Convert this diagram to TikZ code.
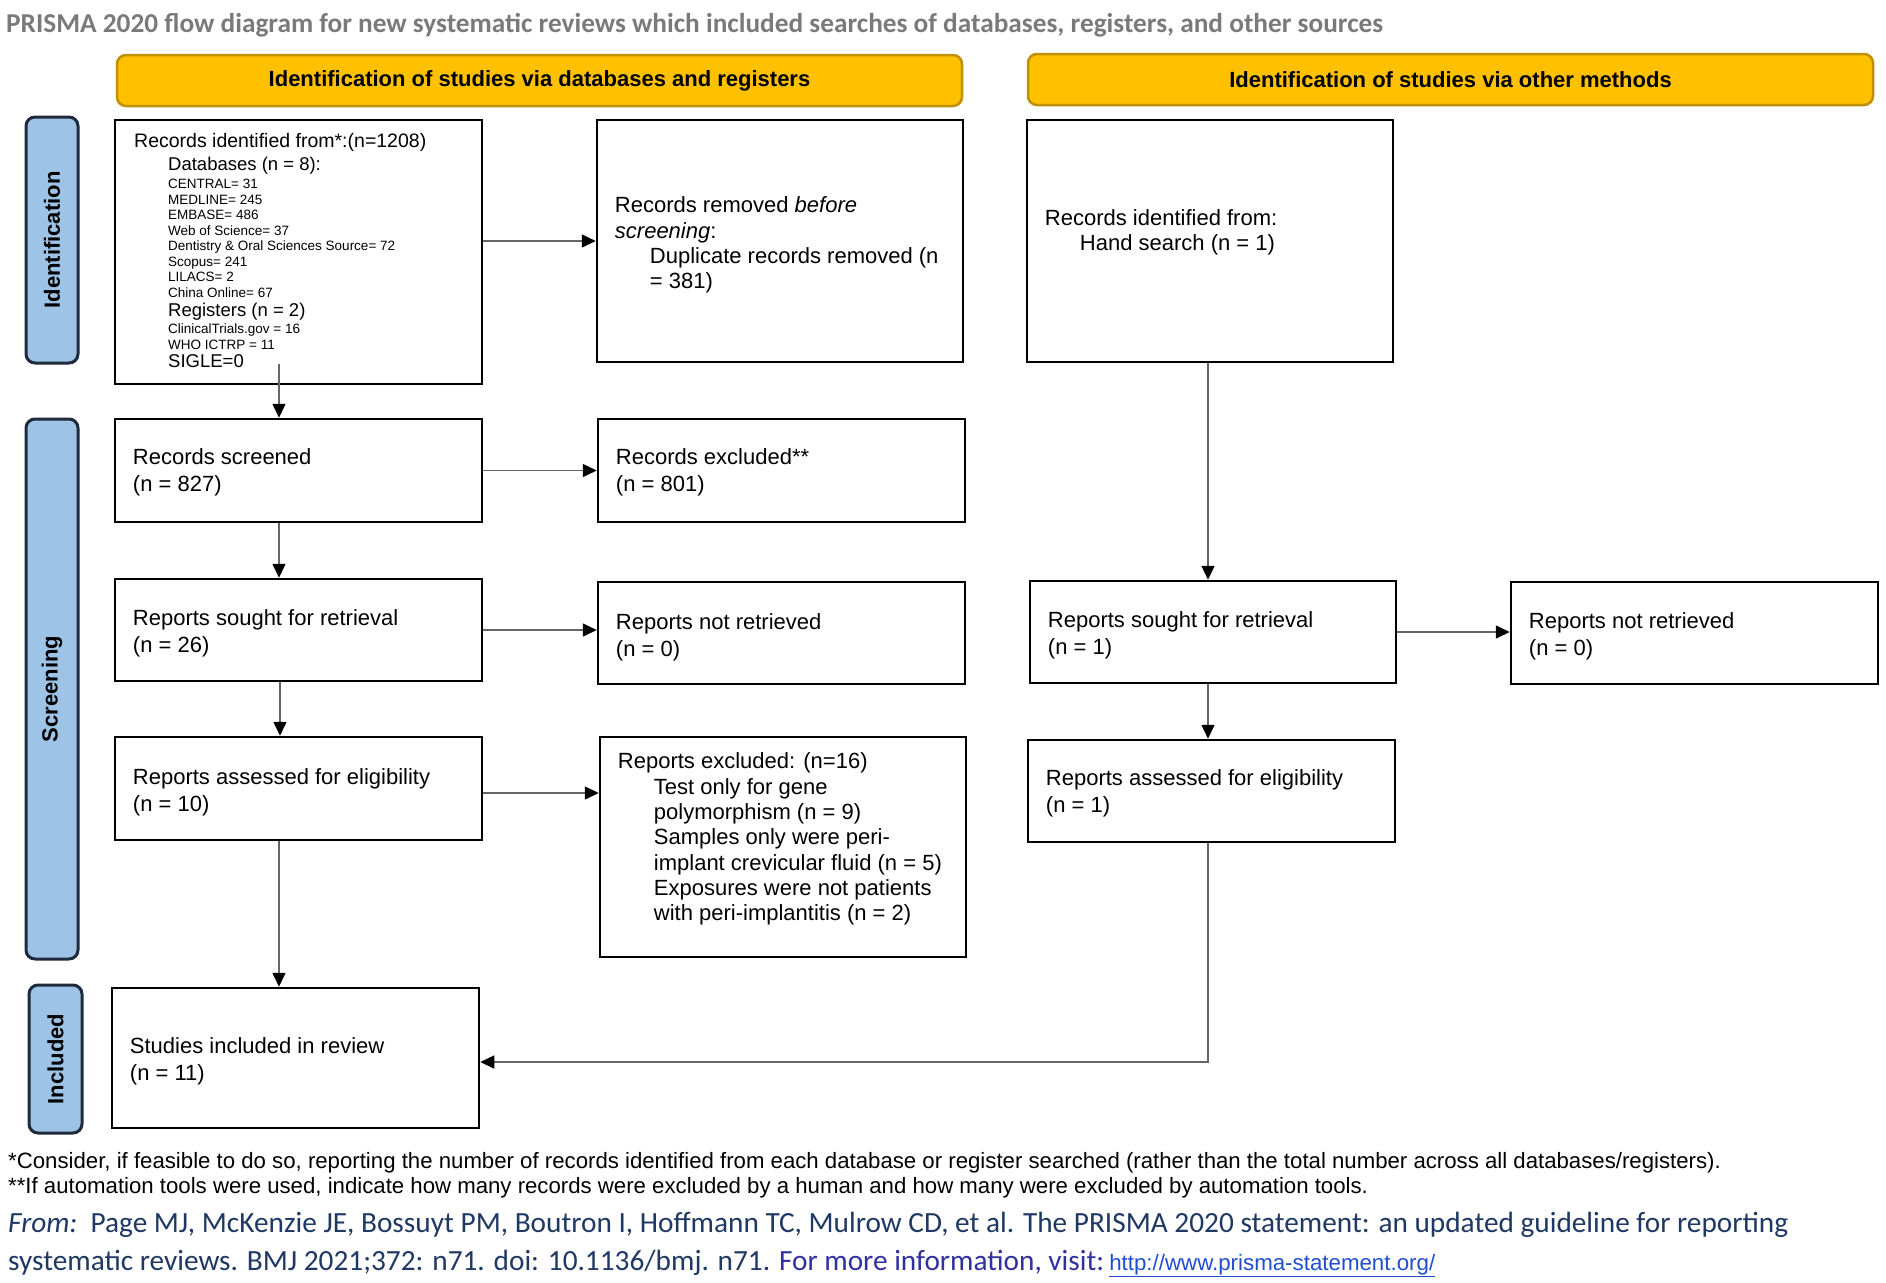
\documentclass[tikz,border=0pt]{standalone}
\usepackage{fontspec}
\setmainfont{Liberation Sans}
\newfontfamily\calfont{Carlito}
\usetikzlibrary{arrows.meta,calc}
\definecolor{hdr}{HTML}{FFC000}
\definecolor{hdrb}{HTML}{BF9000}
\definecolor{side}{HTML}{9DC3E6}
\definecolor{sideb}{HTML}{1F2A3C}
\definecolor{ttl}{HTML}{7A7A7A}
\definecolor{navy}{HTML}{1F3864}
\definecolor{vio}{HTML}{3030A0}
\definecolor{lnk}{HTML}{1F4FD0}
\definecolor{conn}{HTML}{666666}
\newcommand\fsz[2]{\fontsize{#1}{#2}\selectfont}
\begin{document}
\begin{tikzpicture}[x=1pt,y=-1pt,
  box/.style={draw=black,line width=2.5pt,inner sep=0pt},
  txt/.style={anchor=west,align=left,inner sep=0pt,font=\fsz{22}{27.3}},
  mtxt/.style={anchor=west,align=left,inner sep=0pt,font=\fsz{22}{25.3}},
  hdrbox/.style={draw=hdrb,fill=hdr,line width=2.5pt,rounded corners=9pt,minimum width=845pt,minimum height=51pt,font=\bfseries\fsz{22}{26}},
  sidebox/.style={draw=sideb,fill=side,line width=3pt,rounded corners=9pt,rotate=90,minimum height=52pt,font=\bfseries\fsz{22}{26}},
  arr/.style={draw=conn,line width=1.5pt,-{Triangle[length=14pt,width=13pt,color=black]}},
  l1/.style={anchor=mid west,inner sep=0pt,font=\fsz{19.5}{23}},
  l2/.style={anchor=mid west,inner sep=0pt,font=\fsz{18.5}{22}},
  l3/.style={anchor=mid west,inner sep=0pt,font=\fsz{13.5}{16}},
  foot/.style={anchor=mid west,inner sep=0pt,font=\fsz{22.2}{25}},
  cal/.style={anchor=mid west,inner sep=0pt,font=\calfont\fsz{29.3}{34},text=navy}]
\useasboundingbox (0,0) rectangle (1886,1282);
\fill[white] (0,0) rectangle (1886,1282);

% title
\node[anchor=mid west,inner sep=0pt,font=\calfont\bfseries\fsz{27.3}{32},text=ttl] (title) at (6,30)
  {PRISMA 2020 flow diagram for new systematic reviews which included searches of databases, registers, and other sources};

% headers
\node[hdrbox] (h1) at (539.5,80.5) {Identification of studies via databases and registers};
\node[hdrbox] (h2) at (1450.5,79.5) {Identification of studies via other methods};

% side labels
\node[sidebox,minimum width=246pt] (sid) at (52,240) {Identification};
\node[sidebox,minimum width=540pt] (sscr) at (52,689) {Screening};
\node[sidebox,minimum width=148pt,minimum height=53pt] (sinc) at (55.5,1059) {Included};

% first box
\node[box,minimum width=367pt,minimum height=264pt] (idb) at (298.5,252) {};
\node[l1] (t1) at (134,145) {Records identified from*:(n=1208)};
\node[l2] (t2) at (168,168) {Databases (n = 8):};
\node[l3] (t3) at (168,186) {CENTRAL= 31};
\node[l3] (t4) at (168,202) {MEDLINE= 245};
\node[l3] (t5) at (168,217) {EMBASE= 486};
\node[l3] (t6) at (168,233) {Web of Science= 37};
\node[l3] (t7) at (168,248) {Dentistry \& Oral Sciences Source= 72};
\node[l3] (t8) at (168,264) {Scopus= 241};
\node[l3] (t9) at (168,279) {LILACS= 2};
\node[l3] (t10) at (168,295) {China Online= 67};
\node[l2] (t11) at (168,314) {Registers (n = 2)};
\node[l3] (t12) at (168,331) {ClinicalTrials.gov = 16};
\node[l3] (t13) at (168,347) {WHO ICTRP = 11};
\node[l2] (t14) at (168,365) {SIGLE=0};

% other boxes
\node[box,minimum width=366pt,minimum height=242pt] (rem) at (780,241) {};
\node[mtxt] (remt) at ([xshift=19pt,yshift=-4pt]rem.west)
  {Records removed \textit{before}\\\textit{screening}:\\\hspace*{35pt}Duplicate records removed (n\\\hspace*{35pt}= 381)};

\node[box,minimum width=366pt,minimum height=242pt] (oid) at (1210,241) {};
\node[mtxt] (oidt) at ([xshift=19pt,yshift=9pt]oid.west)
  {Records identified from:\\\hspace*{35pt}Hand search (n = 1)};

\node[box,minimum width=367pt,minimum height=103pt] (scr) at (298.5,470.5) {};
\node[txt] (scrt) at ([xshift=19pt,yshift=-1.5pt]scr.west) {Records screened\\(n = 827)};
\node[box,minimum width=367pt,minimum height=103pt] (exc) at (781.5,470.5) {};
\node[txt] (exct) at ([xshift=19pt,yshift=-1.5pt]exc.west) {Records excluded**\\(n = 801)};

\node[box,minimum width=367pt,minimum height=102pt] (sgt) at (298.5,630) {};
\node[txt] (sgtt) at ([xshift=19pt,yshift=-3pt]sgt.west) {Reports sought for retrieval\\(n = 26)};
\node[box,minimum width=367pt,minimum height=102pt] (nrt) at (781.5,633) {};
\node[txt] (nrtt) at ([xshift=19pt,yshift=-4pt]nrt.west) {Reports not retrieved\\(n = 0)};
\node[box,minimum width=366pt,minimum height=102pt] (osgt) at (1213,632) {};
\node[txt] (osgtt) at ([xshift=19pt,yshift=-3.5pt]osgt.west) {Reports sought for retrieval\\(n = 1)};
\node[box,minimum width=367pt,minimum height=102pt] (onrt) at (1694.5,633) {};
\node[txt] (onrtt) at ([xshift=19pt,yshift=-3.5pt]onrt.west) {Reports not retrieved\\(n = 0)};

\node[box,minimum width=367pt,minimum height=103pt] (ass) at (298.5,788.5) {};
\node[txt] (asst) at ([xshift=19pt,yshift=-4pt]ass.west) {Reports assessed for eligibility\\(n = 10)};
\node[box,minimum width=366pt,minimum height=220pt] (rex) at (783,847) {};
\node[mtxt] (rext) at ([xshift=19pt,yshift=8pt]rex.west)
  {Reports excluded: (n=16)\\
   \hspace*{36pt}Test only for gene\\
   \hspace*{36pt}polymorphism (n = 9)\\
   \hspace*{36pt}Samples only were peri-\\
   \hspace*{36pt}implant crevicular fluid (n = 5)\\
   \hspace*{36pt}Exposures were not patients\\
   \hspace*{36pt}with peri-implantitis (n = 2)};
\node[box,minimum width=367pt,minimum height=102pt] (oass) at (1211.5,791) {};
\node[txt] (oasst) at ([xshift=19pt,yshift=-2pt]oass.west) {Reports assessed for eligibility\\(n = 1)};

\node[box,minimum width=367pt,minimum height=140pt] (inc) at (295.5,1058) {};
\node[txt] (inct) at ([xshift=19pt,yshift=-3.5pt]inc.west) {Studies included in review\\(n = 11)};

% connectors
\draw[arr] ([xshift=-19.5pt,yshift=21pt]idb.south) -- ([xshift=-19.5pt]idb.south |- scr.north);
\draw[arr] ([xshift=-19.5pt]scr.south) -- ([xshift=-19.5pt]scr.south |- sgt.north);
\draw[arr] ([xshift=-18.5pt]sgt.south) -- ([xshift=-18.5pt]sgt.south |- ass.north);
\draw[arr] ([xshift=-19.5pt]ass.south) -- ([xshift=-19.5pt]ass.south |- inc.north);
\draw[arr] (idb.east |- rem.west) -- (rem.west);
\draw[arr] (scr.east) -- (scr.east -| exc.west);
\draw[arr] (sgt.east) -- (sgt.east -| nrt.west);
\draw[arr] ([yshift=-4.5pt]ass.east) -- ([yshift=-4.5pt]ass.east -| rex.west);
\draw[arr] (osgt.east) -- (osgt.east -| onrt.west);
\draw[arr] ([xshift=-2pt]oid.south) -- ([xshift=-2pt]oid.south |- osgt.north);
\draw[arr] ([xshift=-5pt]osgt.south) -- ([xshift=-5pt]osgt.south |- oass.north);
\draw[arr] ([xshift=-3.5pt]oass.south) |- ([yshift=-4pt]inc.east);

% footer
\node[foot] (f1) at (8,1166) {*Consider, if feasible to do so, reporting the number of records identified from each database or register searched (rather than the total number across all databases/registers).};
\node[foot] (f2) at (8,1191) {**If automation tools were used, indicate how many records were excluded by a human and how many were excluded by automation tools.};
\node[cal] (f3) at (8,1230) {\textit{From:}\ \ Page MJ, McKenzie JE, Bossuyt PM, Boutron I, Hoffmann TC, Mulrow CD, et al. The PRISMA 2020 statement: an updated guideline for reporting};
\node[cal] (f4) at (8,1268) {systematic reviews. BMJ 2021;372: n71. doi: 10.1136/bmj. n71. \textcolor{vio}{For more information, visit:}\hspace{5pt}{\rmfamily\fsz{22.3}{26}\textcolor{lnk}{\underline{http://www.prisma-statement.org/}}}};
\end{tikzpicture}
\end{document}
